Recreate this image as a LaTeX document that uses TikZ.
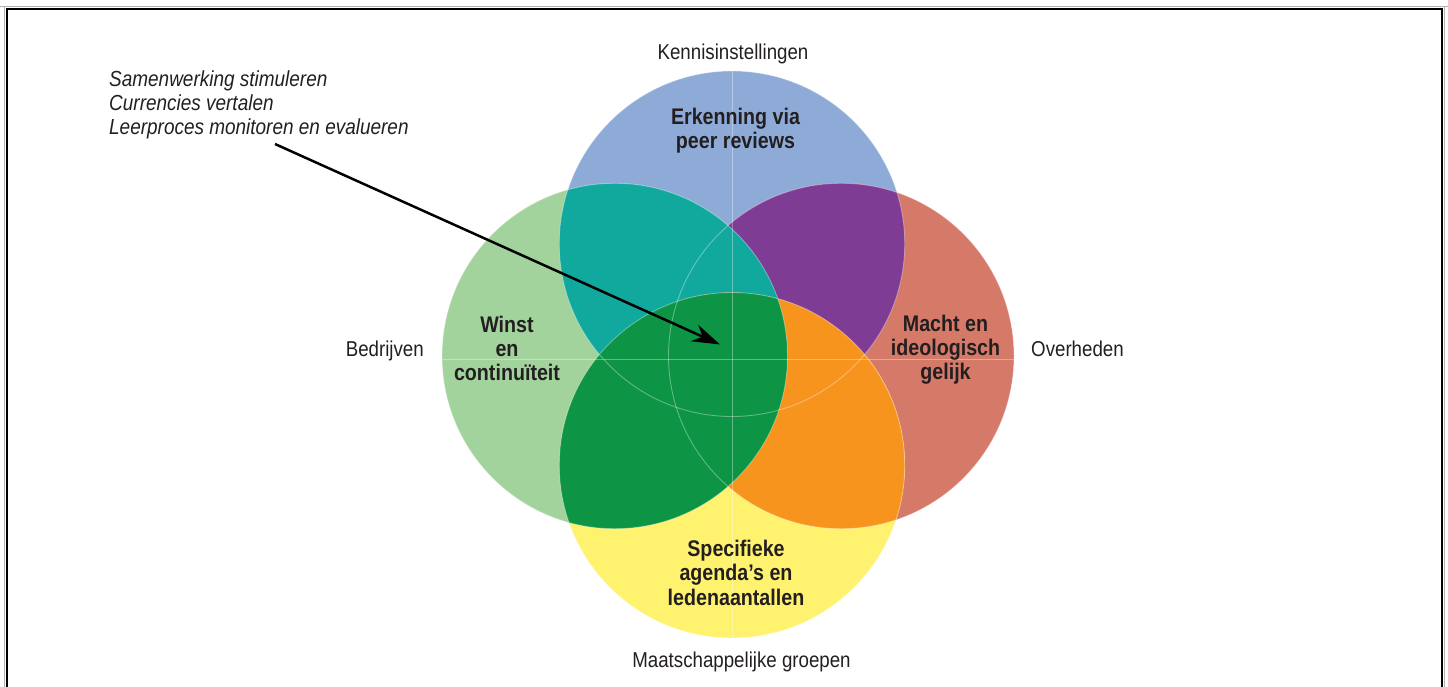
\documentclass[tikz,border=0pt]{standalone}
\usepackage{fontspec}
\setmainfont{Liberation Sans}[FakeStretch=0.87]
\usetikzlibrary{arrows.meta}
\definecolor{cblue}{RGB}{142,171,216}
\definecolor{cgreen}{RGB}{163,211,156}
\definecolor{cred}{RGB}{213,121,104}
\definecolor{cyellow}{RGB}{255,242,111}
\definecolor{cteal}{RGB}{17,168,158}
\definecolor{cpurple}{RGB}{126,60,149}
\definecolor{cdkgreen}{RGB}{13,148,69}
\definecolor{corange}{RGB}{247,148,30}
\definecolor{ink}{RGB}{35,31,32}
\tikzset{
  lab/.style={font=\fontsize{21.5}{24}\selectfont, text=ink, inner sep=0pt, anchor=base},
  blab/.style={lab, font=\fontsize{22.6}{24}\selectfont\bfseries},
  ilab/.style={lab, font=\fontsize{21.8}{24}\selectfont\itshape, anchor=base west},
  thinline/.style={draw=white, draw opacity=0.35, line width=0.9pt},
  frameline/.style={line width=2pt, draw=black},
  grayline/.style={line width=1pt, draw=black!30},
  pointer/.style={line width=2.5pt, draw=black, -{Stealth[length=28pt,width=18pt,inset=9pt]}}
}
\begin{document}
\begin{tikzpicture}[x=1pt,y=-1pt]
\useasboundingbox (0,0) rectangle (1448,687);
% frame
\coordinate (g1) at (4,687);
\coordinate (g2) at (4,6.5);
\coordinate (g0) at (0,6.5);
\coordinate (g3) at (1448,6.5);
\coordinate (g4) at (1444,6.5);
\coordinate (g5) at (1444,687);
\draw[grayline] (g0) -- (g3);
\draw[grayline] (g1) -- (g2);
\draw[grayline] (g4) -- (g5);
\coordinate (f1) at (6.5,687);
\coordinate (f2) at (6.5,9);
\coordinate (f3) at (1441.5,9);
\coordinate (f4) at (1441.5,687);
\draw[frameline] (f1) -- (f2) -- (f3) -- (f4);
% circle centres
\coordinate (cB) at (732,243.75);
\coordinate (cY) at (732,465.25);
\coordinate (cG) at (614.75,356);
\coordinate (cR) at (841.25,356);
\def\rr{172.75pt}
% base circles
\fill[cblue] (cB) circle (\rr);
\fill[cgreen] (cG) circle (\rr);
\fill[cred] (cR) circle (\rr);
\fill[cyellow] (cY) circle (\rr);
% overlaps
\begin{scope}
  \clip (cB) circle (\rr);
  \fill[cpurple] (cR) circle (\rr);
\end{scope}
\begin{scope}
  \clip (cB) circle (\rr);
  \fill[cteal] (cG) circle (\rr);
\end{scope}
\begin{scope}
  \clip (cR) circle (\rr);
  \fill[corange] (cY) circle (\rr);
\end{scope}
\begin{scope}
  \clip (cG) circle (\rr);
  \fill[cdkgreen] (cY) circle (\rr);
\end{scope}
% thin light outlines and axes
\draw[thinline] (cB) circle (\rr);
\draw[thinline] (cG) circle (\rr);
\draw[thinline] (cR) circle (\rr);
\draw[thinline] (cY) circle (\rr);
\coordinate (vtop) at (732.5,71);
\coordinate (vbot) at (732.5,638);
\coordinate (hl) at (442,359);
\coordinate (hr) at (1014,359);
\draw[thinline] (vtop) -- (vbot);
\draw[thinline] (hl) -- (hr);
% labels
\node[lab] (kennis) at (733,60) {Kennisinstellingen};
\node[blab] (erk1) at (735.5,125) {Erkenning via};
\node[blab] (erk2) at (735.5,149) {peer reviews};
\node[blab] (win1) at (507,332) {Winst};
\node[blab] (win2) at (507,356) {en};
\node[blab] (win3) at (507,380) {continuïteit};
\node[lab, anchor=base east] (bedr) at (424,356.5) {Bedrijven};
\node[blab] (mac1) at (945.5,331) {Macht en};
\node[blab] (mac2) at (945.5,355) {ideologisch};
\node[blab] (mac3) at (945.5,379) {gelijk};
\node[lab, anchor=base west] (overh) at (1031,356) {Overheden};
\node[blab] (spec1) at (736,556) {Specifieke};
\node[blab] (spec2) at (736,580.5) {agenda’s en};
\node[blab] (spec3) at (736,605) {ledenaantallen};
\node[lab] (maat) at (741.5,667) {Maatschappelijke groepen};
\node[ilab] (it1) at (109,86.5) {Samenwerking stimuleren};
\node[ilab] (it2) at (109,110.5) {Currencies vertalen};
\node[ilab] (it3) at (109,134.5) {Leerproces monitoren en evalueren};
% arrow
\coordinate (as) at (275,144);
\coordinate (at) at (720,344.5);
\draw[pointer] (as) -- (at);
\end{tikzpicture}
\end{document}
